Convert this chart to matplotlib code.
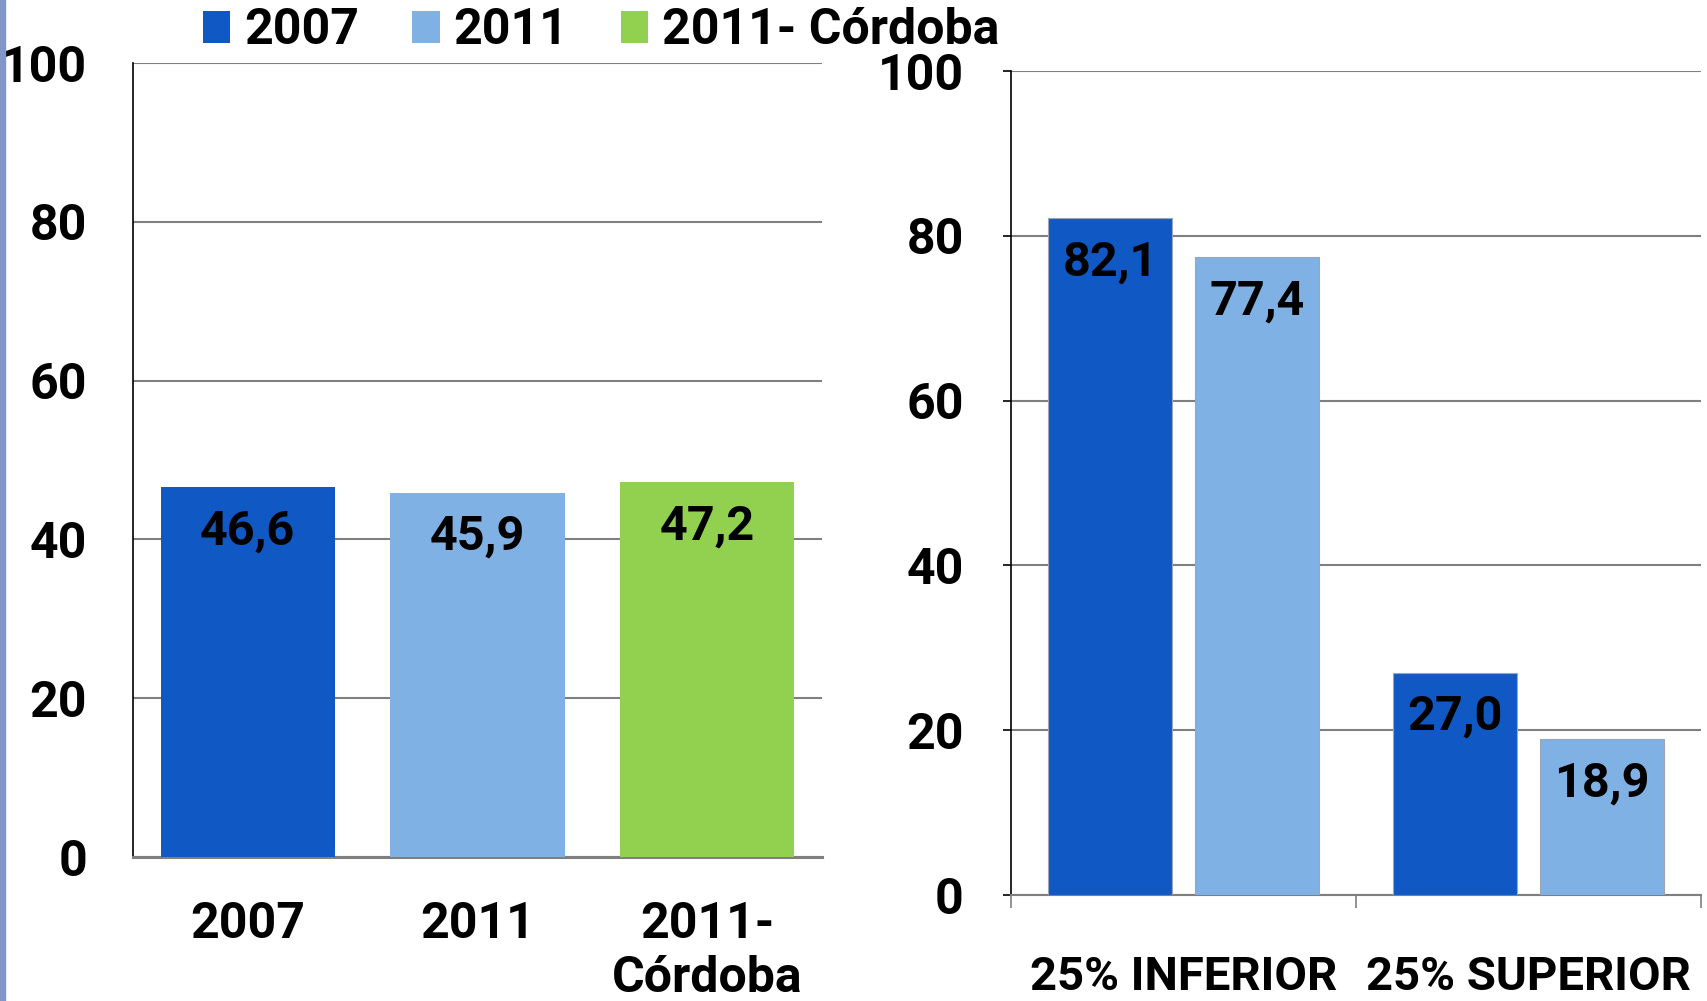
import matplotlib
matplotlib.use("Agg")
import matplotlib.pyplot as plt
from matplotlib.patches import Patch, Rectangle

# Data
left_categories = ["2007", "2011", "2011-\nCórdoba"]
left_values = [46.6, 45.9, 47.2]
right_categories = ["25% INFERIOR", "25% SUPERIOR"]
right_2007 = [82.1, 27.0]
right_2011 = [77.4, 18.9]
legend_labels = ["2007", "2011", "2011- Córdoba"]
yticks = [0, 20, 40, 60, 80, 100]

C_2007 = "#1059C4"
C_2011 = "#7FB1E5"
C_CBA = "#92D050"
GRID = "#7f7f7f"

TICK_FONT = ["Roboto", "DejaVu Sans"]
LABEL_FONT = ["Roboto", "DejaVu Sans"]

W, H = 1708, 1001
fig = plt.figure(figsize=(W / 100, H / 100), dpi=100)


def px_axes(x0, y0, x1, y1):
    """Axes from pixel box (top-left origin)."""
    return fig.add_axes([x0 / W, 1 - y1 / H, (x1 - x0) / W, (y1 - y0) / H])


def fmt(v):
    return f"{v:.1f}".replace(".", ",")


def style_y(ax):
    ax.set_ylim(0, 100)
    ax.set_yticks(yticks)
    ax.yaxis.grid(True, color=GRID, lw=1.5)
    ax.set_axisbelow(True)
    for s in ["top", "right"]:
        ax.spines[s].set_visible(False)
    ax.spines["left"].set_color("black")
    ax.spines["left"].set_linewidth(1.2)
    ax.spines["bottom"].set_color(GRID)
    for lab in ax.get_yticklabels():
        lab.set_fontfamily(TICK_FONT)
        lab.set_fontweight("bold")
        lab.set_fontsize(36)


def bar_labels(ax, bars, values):
    for b, v in zip(bars, values):
        ax.annotate(fmt(v), (b.get_x() + b.get_width() / 2, b.get_height()),
                    xytext=(0, -32), textcoords="offset points",
                    ha="center", va="center", fontsize=35, fontweight="bold",
                    family=LABEL_FONT, color="black")


# Left panel
ax1 = px_axes(133, 63, 822, 857)
x1 = range(len(left_categories))
bars1 = ax1.bar(x1, left_values, width=0.76, color=[C_2007, C_2011, C_CBA], zorder=3)
ax1.set_xlim(-0.5, 2.5)
ax1.set_xticks(list(x1))
ax1.set_xticklabels(left_categories, fontsize=36, fontweight="bold",
                    family=TICK_FONT, linespacing=1.17)
ax1.tick_params(axis="x", length=0, pad=32)
ax1.tick_params(axis="y", length=0, pad=33)
style_y(ax1)
ax1.spines["bottom"].set_linewidth(2.2)
bar_labels(ax1, bars1, left_values)

# Right panel
ax2 = px_axes(1011, 71, 1701, 895)
x2 = [0, 1]
off = 0.213
bw = 0.36
bars_a = ax2.bar([x - off for x in x2], right_2007, width=bw, color=C_2007,
                 edgecolor="#9aa6b8", linewidth=0.8, zorder=3)
bars_b = ax2.bar([x + off for x in x2], right_2011, width=bw, color=C_2011,
                 edgecolor="#9aa6b8", linewidth=0.8, zorder=3)
ax2.set_xlim(-0.5, 1.5)
ax2.set_xticks(x2)
ax2.set_xticklabels(right_categories, fontsize=34, fontweight="bold", family=TICK_FONT)
ax2.set_xticks([-0.5, 0.5, 1.5], minor=True)
ax2.tick_params(axis="x", which="major", length=0, pad=43)
ax2.tick_params(axis="x", which="minor", length=9, width=1.2, color=GRID)
ax2.tick_params(axis="y", length=6, width=1.2, pad=28)
style_y(ax2)
ax2.spines["bottom"].set_linewidth(1.5)
bar_labels(ax2, bars_a, right_2007)
bar_labels(ax2, bars_b, right_2011)

# Legend
handles = [Patch(facecolor=c) for c in [C_2007, C_2011, C_CBA]]
fig.legend(handles, legend_labels, loc="center left", ncol=3,
           bbox_to_anchor=(203 / W, 1 - 31 / H), frameon=False,
           borderpad=0, borderaxespad=0, handlelength=0.55, handleheight=0.62,
           handletextpad=0.28, columnspacing=1.05,
           prop={"family": TICK_FONT, "weight": "bold", "size": 36})

# thin slide-border strip on the left edge
fig.patches.append(Rectangle((0, 0), 5 / W, 1, transform=fig.transFigure,
                             color="#8197c9", zorder=0))

fig.savefig("out.png", dpi=100)
